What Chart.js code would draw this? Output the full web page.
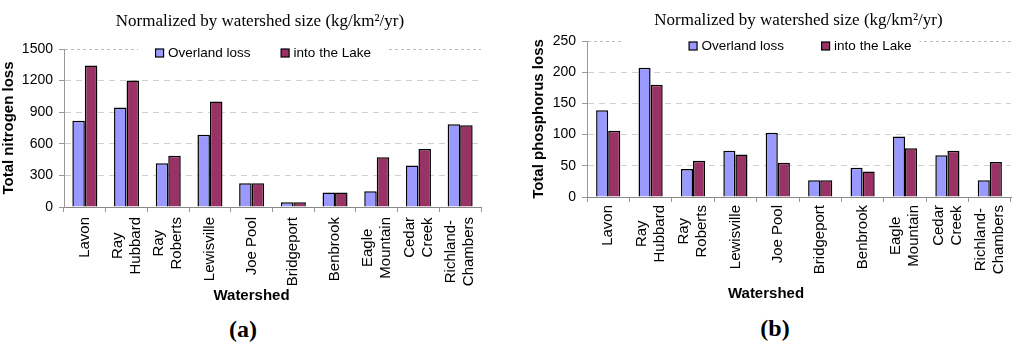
<!DOCTYPE html>
<html>
<head>
<meta charset="utf-8">
<script src="https://cdn.jsdelivr.net/npm/chart.js@4"></script>
<style>
  html, body { margin: 0; padding: 0; background: #fff; overflow: hidden; width: 1024px; height: 345px; }
  .wrap { position: absolute; top: 0; }
  .panel { position: absolute; font: bold 24px "Liberation Serif", "Times New Roman", serif; color: #000; transform: translate(-50%, -50%); }
</style>
</head>
<body>
<div class="wrap" style="left:0px;width:520px;height:305px"><canvas id="ca" width="520" height="305"></canvas></div>
<div class="wrap" style="left:512px;width:573px;height:305px"><canvas id="cb" width="573" height="305"></canvas></div>
<div class="panel" style="left:243px;top:329px">(a)</div>
<div class="panel" style="left:775px;top:328px">(b)</div>
<script>
// ---- data ----
const categories = [['Lavon'], ['Ray', 'Hubbard'], ['Ray', 'Roberts'], ['Lewisville'], ['Joe Pool'], ['Bridgeport'], ['Benbrook'], ['Eagle', 'Mountain'], ['Cedar', 'Creek'], ['Richland-', 'Chambers']];
const seriesNames = ['Overland loss', 'into the Lake'];
const nitrogenOverland = [820, 944, 416, 686, 226, 44, 137, 149, 394, 785];
const nitrogenLake     = [1344, 1201, 486, 1001, 226, 44, 137, 473, 550, 775];
const phosphorusOverland = [139, 207, 45, 74, 103, 27, 47, 97, 67, 27];
const phosphorusLake     = [106, 180, 58, 68, 55, 27, 41, 78, 74, 56];
const nitrogenTicks = { min: 0, max: 1500, step: 300 };
const phosphorusTicks = { min: 0, max: 250, step: 50 };
const titleText = 'Normalized by watershed size (kg/km\u00B2/yr)';
const xTitleText = 'Watershed';

const SANS = '"Liberation Sans", Arial, sans-serif';
const SERIF = '"Liberation Serif", "Times New Roman", serif';
const colOver = '#9999FF', colLake = '#993366';

// legend drawn inside the plot area (as in the original)
const insideLegend = {
  id: 'insideLegend',
  afterDraw(chart, args, o) {
    const ctx = chart.ctx, ca = chart.chartArea;
    ctx.save();
    ctx.font = '13.5px ' + SANS;
    const box = 9, gt = 4;
    const items = chart.data.datasets.map(ds => ({ label: ds.label, color: ds.backgroundColor, w: ctx.measureText(ds.label).width }));
    const total = items.reduce((s, it) => s + box + gt + it.w, 0) + o.gap * (items.length - 1);
    let x = ca.left + o.cx - total / 2;
    const cy = ca.top + o.cy;
    ctx.fillStyle = '#fff';
    ctx.fillRect(x - o.padL, ca.top - 3, total + o.padL + o.padR, o.cy + 9);
    ctx.textBaseline = 'middle';
    ctx.textAlign = 'left';
    items.forEach(it => {
      ctx.fillStyle = it.color;
      ctx.fillRect(x + 0.5, cy - box / 2 + 0.5, box - 1, box - 1);
      ctx.strokeStyle = '#000';
      ctx.lineWidth = 1.2;
      ctx.strokeRect(x + 0.5, cy - box / 2 + 0.5, box - 1, box - 1);
      ctx.fillStyle = '#000';
      ctx.fillText(it.label, x + box + gt, cy);
      x += box + gt + it.w + o.gap;
    });
    ctx.restore();
  }
};

// rotated category labels: lines centred on each other, block top-aligned under the axis
const xLabels = {
  id: 'xLabels',
  afterDraw(chart, args, o) {
    const ctx = chart.ctx, xs = chart.scales.x, ca = chart.chartArea;
    ctx.save();
    ctx.fillStyle = '#000';
    ctx.font = o.size + 'px ' + SANS;
    ctx.textBaseline = 'middle';
    ctx.textAlign = 'center';
    chart.data.labels.forEach((lines, i) => {
      const px = xs.getPixelForTick(i);
      const mx = Math.max(...lines.map(l => ctx.measureText(l).width));
      const n = lines.length;
      lines.forEach((l, k) => {
        ctx.save();
        ctx.translate(px + (k - (n - 1) / 2) * o.lineH, ca.bottom + o.top + mx / 2);
        ctx.rotate(-Math.PI / 2);
        ctx.fillText(l, 0, 0);
        ctx.restore();
      });
    });
    ctx.font = 'bold 15px ' + SANS;
    ctx.textBaseline = 'alphabetic';
    ctx.fillText(xTitleText, (ca.left + ca.right) / 2 + o.titleDx, o.titleY);
    ctx.restore();
  }
};

function makeChart(id, over, lake, tk, yTitle, cfg) {
  return new Chart(document.getElementById(id), {
    type: 'bar',
    data: {
      labels: categories,
      datasets: [
        { label: seriesNames[0], data: over, backgroundColor: colOver, borderColor: '#000', borderWidth: 1.5, categoryPercentage: cfg.catPct, barPercentage: 1 },
        { label: seriesNames[1], data: lake, backgroundColor: colLake, borderColor: '#000', borderWidth: 1.5, categoryPercentage: cfg.catPct, barPercentage: 1 }
      ]
    },
    options: {
      responsive: false,
      animation: false,
      devicePixelRatio: 1,
      layout: { padding: 0 },
      plugins: {
        legend: { display: false },
        tooltip: { enabled: false },
        title: { display: true, text: titleText, font: { family: SERIF, size: 17, weight: 'normal' }, color: '#000', padding: { top: cfg.tPadTop, bottom: cfg.tPadBot } },
        insideLegend: cfg.legend,
        xLabels: cfg.xl
      },
      scales: {
        x: {
          grid: {
            offset: true,
            drawOnChartArea: true,
            color: c => (c.index === categories.length ? '#aaa' : 'rgba(0,0,0,0)'),
            tickColor: '#999',
            tickLength: 5,
            lineWidth: 1
          },
          border: { display: true, color: '#888', width: 1, dash: [2, 4] },
          ticks: { display: false },
          afterFit: s => { s.height = cfg.xH; }
        },
        y: {
          min: tk.min, max: tk.max,
          grid: { color: c => (c.index === 5 ? '#bbb' : '#d0d0d0'), tickColor: '#999', tickLength: 5, lineWidth: 1 },
          border: { display: true, color: '#999', width: 1, dash: c => (c.index === 5 ? [3, 3] : [6, 5]) },
          ticks: { stepSize: tk.step, color: '#000', font: { family: SANS, size: 14 }, padding: 6, callback: v => String(v) },
          title: { display: true, text: yTitle, color: '#000', font: { family: SANS, size: 15, weight: 'bold' }, padding: { top: cfg.yTitlePad, bottom: 0 } },
          afterFit: s => { s.width = cfg.yW; }
        },
        yR: {
          type: 'linear', position: 'right', display: true,
          grid: { display: false, drawTicks: false },
          border: { display: false },
          ticks: { display: false },
          afterFit: s => { s.width = cfg.rW; }
        }
      }
    },
    plugins: [insideLegend, xLabels]
  });
}

makeChart('ca', nitrogenOverland, nitrogenLake, nitrogenTicks, 'Total nitrogen loss',
  { catPct: 0.6, rW: 39, tPadTop: 11, tPadBot: 17.6, xH: 98, yW: 64, yTitlePad: 0,
    legend: { cx: 199, cy: 4, gap: 30, padL: 17, padR: 15 },
    xl: { size: 15, lineH: 18, top: 10, titleDx: -21, titleY: 300 } });
makeChart('cb', phosphorusOverland, phosphorusLake, phosphorusTicks, 'Total phosphorus loss',
  { catPct: 0.57, rW: 74, tPadTop: 10, tPadBot: 10.6, xH: 108, yW: 75, yTitlePad: 18,
    legend: { cx: 213, cy: 5, gap: 37, padL: 67, padR: 8 },
    xl: { size: 15, lineH: 18, top: 8, titleDx: -33, titleY: 298 } });
</script>
</body>
</html>
